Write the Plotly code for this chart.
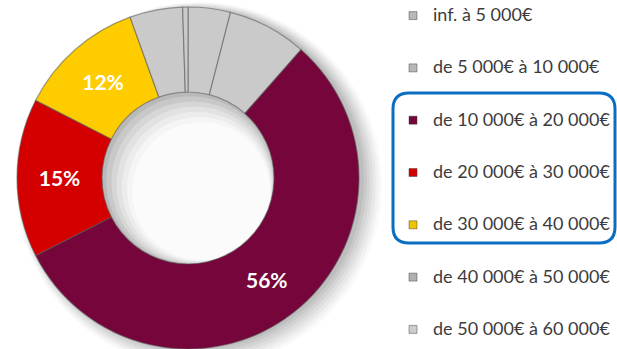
import plotly.graph_objects as go

W, H = 617, 349

# Income brackets (legend order = slice order, clockwise from 12 o'clock)
tranches = [
    "inf. à 5\u00a0000€",
    "de 5\u00a0000€ à 10\u00a0000€",
    "de 10\u00a0000€ à 20\u00a0000€",
    "de 20\u00a0000€ à 30\u00a0000€",
    "de 30\u00a0000€ à 40\u00a0000€",
    "de 40\u00a0000€ à 50\u00a0000€",
    "de 50\u00a0000€ à 60\u00a0000€",
]
parts = [4, 7.5, 56, 15, 12, 5, 0.5]
etiquettes = ["", "", "56%", "15%", "12%", "", ""]
couleurs = ["#cacaca", "#cacaca", "#75053a", "#d40000", "#ffcc00", "#cacaca", "#cacaca"]
couleurs_legende = ["#b8b8b8", "#b8b8b8", "#75053a", "#d40000", "#f2c200", "#b0b0b0", "#cdcdcd"]


def px(x):
    return x / W


def py(y):
    return 1 - y / H


CX, CY, R, R_HOLE = 188, 178, 171, 86

fig = go.Figure()

fig.add_trace(go.Pie(
    labels=tranches,
    values=parts,
    text=etiquettes,
    textinfo="text",
    textposition=["none", "none", "inside", "inside", "inside", "none", "none"],
    insidetextorientation="horizontal",
    textfont=dict(family="Lato", size=21, color="white", weight="bold"),
    marker=dict(colors=couleurs, line=dict(color="rgba(90,90,90,0.55)", width=1.2)),
    hole=R_HOLE / R,
    sort=False,
    direction="clockwise",
    rotation=0,
    showlegend=False,
    domain=dict(x=[px(CX - R), px(CX + R)], y=[0, 0.98]),
    hoverinfo="label+percent",
))

# Legend entries, one group each so the spacing can be set
for i, (nom, c) in enumerate(zip(tranches, couleurs_legende)):
    fig.add_trace(go.Scatter(
        x=[None], y=[None], mode="markers",
        name=f"<span style='font-size:18px'>{nom}</span>",
        legendgroup=f"g{i}",
        marker=dict(symbol="square", size=8, color=c,
                    line=dict(color="rgba(60,60,60,0.45)", width=1)),
        hoverinfo="skip",
    ))

shapes = []
# soft drop shadow to the lower right of the ring
for k, a in enumerate([0.025, 0.03, 0.035, 0.04, 0.045, 0.05, 0.055]):
    r = R + 12 - 2 * k
    ox, oy = 11 - k, 7 - k
    shapes.append(dict(
        type="circle", xref="paper", yref="paper", layer="below",
        x0=px(CX + ox - r), x1=px(CX + ox + r), y0=py(CY + oy + r), y1=py(CY + oy - r),
        fillcolor=f"rgba(0,0,0,{a})", line=dict(width=0),
    ))
# shading inside the hole
hole_cols = ["#b9b9b9", "#c8c8c8", "#d6d6d6", "#e2e2e2", "#ececec", "#f5f5f5", "#fbfbfb"]
for k, col in enumerate(hole_cols):
    r = R_HOLE + 1 - 3 * k
    o = 2.2 * k
    shapes.append(dict(
        type="circle", xref="paper", yref="paper", layer="below",
        x0=px(CX + o - r), x1=px(CX + o + r), y0=py(CY + o + r), y1=py(CY + o - r),
        fillcolor=col, line=dict(width=0),
    ))

# rounded frame around the three highlighted brackets
x0, x1, y0, y1, rr = 393, 615, 93, 243, 16
path = (
    f"M {px(x0 + rr)},{py(y0)} L {px(x1 - rr)},{py(y0)} "
    f"Q {px(x1)},{py(y0)} {px(x1)},{py(y0 + rr)} "
    f"L {px(x1)},{py(y1 - rr)} Q {px(x1)},{py(y1)} {px(x1 - rr)},{py(y1)} "
    f"L {px(x0 + rr)},{py(y1)} Q {px(x0)},{py(y1)} {px(x0)},{py(y1 - rr)} "
    f"L {px(x0)},{py(y0 + rr)} Q {px(x0)},{py(y0)} {px(x0 + rr)},{py(y0)} Z"
)
shapes.append(dict(type="path", xref="paper", yref="paper", path=path,
                   line=dict(color="#0a6fc2", width=3), layer="above"))

fig.update_layout(
    width=W, height=H,
    margin=dict(l=0, r=0, t=0, b=0),
    paper_bgcolor="white",
    plot_bgcolor="rgba(0,0,0,0)",
    xaxis=dict(visible=False, range=[0, 1]),
    yaxis=dict(visible=False, range=[0, 1]),
    showlegend=True,
    legend=dict(
        x=px(393), xanchor="left", y=1, yanchor="top",
        font=dict(family="Lato", size=14, color="#3c3c3c"),
        tracegroupgap=31.1, bgcolor="rgba(0,0,0,0)", itemwidth=30,
        maxheight=H + 40,
    ),
    shapes=shapes,
)

fig.write_html("out.html")
